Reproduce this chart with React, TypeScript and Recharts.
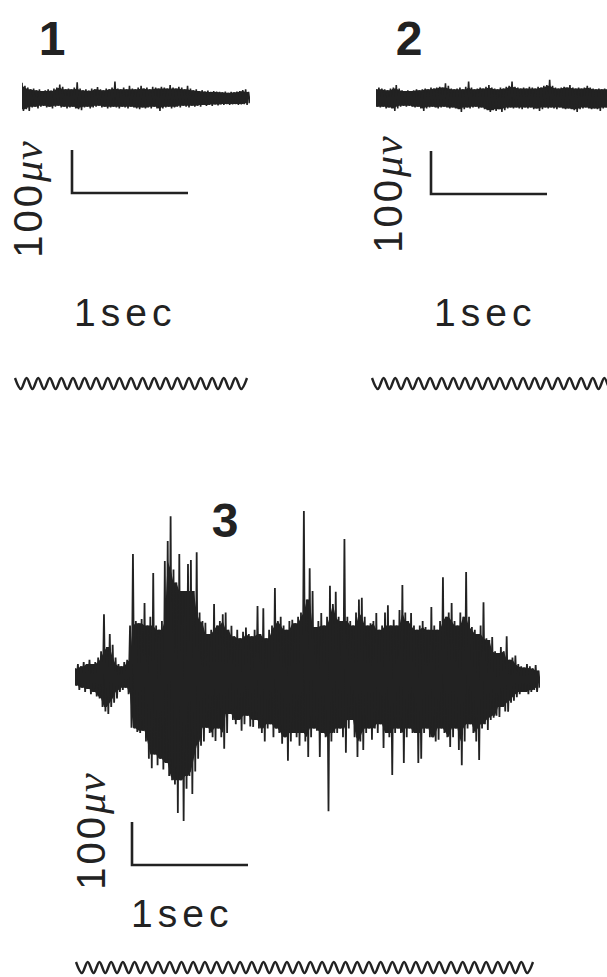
import React from 'react';
import { ComposedChart, Line, Area, XAxis, YAxis } from 'recharts';

// ---- acquisition constants ----
const SAMPLE_STEP = 0.025; // seconds between envelope samples
const PX_PER_SEC = 116;
const PX_PER_UV = 0.43;

// ---- calibration bars ----
const scaleBarUV = 100;
const scaleBarSec = 1;

// ---- panel labels ----
const panelLabels = ['1', '2', '3'];
const voltLabelNum = '100';
const voltLabelUnit = 'μv';
const timeLabel = '1sec';

// ---- trace 1 (upper / lower envelope per sample, μV) ----
const trace1Hi = [35, 28, 24, 20, 22, 18, 20, 16, 18, 20, 17, 22, 24, 31, 26, 20, 22, 20, 24, 36,
  22, 18, 20, 17, 22, 20, 25, 20, 18, 22, 20, 24, 38, 22, 20, 24, 20, 28, 22, 20,
  24, 28, 22, 24, 20, 26, 24, 22, 26, 24, 22, 30, 24, 22, 26, 24, 20, 28, 22, 18,
  20, 16, 18, 15, 17, 14, 16, 15, 14, 13, 15, 12, 14, 13, 15, 16, 18, 20, 14];
const trace1Lo = [-30, -26, -30, -22, -20, -24, -20, -18, -22, -20, -24, -20, -18, -22, -20, -24, -22, -20, -24, -26,
  -28, -22, -20, -24, -22, -20, -18, -22, -20, -24, -22, -20, -22, -24, -20, -22, -24, -20, -22, -24,
  -26, -22, -24, -22, -24, -20, -24, -30, -24, -22, -20, -24, -22, -20, -22, -18, -20, -22, -18, -20,
  -18, -20, -16, -18, -16, -18, -15, -17, -15, -16, -14, -16, -15, -14, -16, -15, -14, -16, -12];

// ---- trace 2 ----
const trace2Hi = [20, 24, 22, 20, 18, 22, 24, 30, 22, 18, 16, 18, 16, 18, 20, 18, 20, 22, 20, 24,
  22, 24, 26, 24, 34, 28, 22, 20, 22, 24, 20, 26, 38, 24, 20, 22, 24, 22, 26, 30,
  24, 22, 20, 24, 22, 26, 28, 38, 26, 24, 22, 24, 22, 26, 24, 22, 26, 24, 28, 30,
  42, 28, 24, 22, 24, 26, 24, 30, 24, 22, 24, 22, 24, 28, 24, 22, 20, 22, 20, 22, 20];
const trace2Lo = [-20, -22, -20, -24, -22, -24, -30, -24, -20, -18, -20, -18, -20, -22, -20, -24, -30, -24, -22, -20,
  -22, -24, -22, -20, -22, -24, -22, -24, -26, -32, -26, -22, -24, -22, -20, -24, -22, -26, -28, -32,
  -28, -30, -26, -32, -28, -24, -22, -24, -22, -24, -26, -22, -24, -22, -26, -24, -30, -26, -22, -24,
  -22, -24, -26, -22, -24, -26, -24, -26, -28, -32, -26, -24, -22, -24, -26, -24, -26, -30, -24, -22, -24];

// ---- trace 3 ----
const trace3Hi = [20, 30, 25, 35, 30, 40, 30, 35, 45, 60,
  146, 70, 100, 75, 45, 30, 25, 35, 40, 120,
  286, 130, 125, 135, 172, 120, 140, 242, 120, 110,
  130, 270, 316, 374, 250, 220, 286, 200, 200, 263,
  272, 200, 290, 150, 130, 126, 100, 110, 170, 120,
  130, 146, 150, 110, 119, 95, 110, 90, 105, 115,
  100, 95, 110, 165, 100, 160, 90, 110, 120, 207,
  130, 140, 120, 110, 130, 133, 125, 140, 150, 386,
  180, 253, 200, 116, 130, 149, 120, 140, 212, 170,
  198, 140, 130, 321, 140, 130, 120, 150, 180, 184,
  140, 120, 125, 130, 149, 110, 120, 150, 167, 120,
  133, 120, 156, 214, 150, 130, 149, 120, 110, 120,
  130, 116, 110, 163, 120, 110, 130, 232, 140, 150,
  172, 130, 120, 150, 140, 244, 140, 116, 110, 100,
  120, 174, 90, 86, 93, 60, 56, 70, 60, 95,
  40, 45, 50, 30, 25, 22, 30, 25, 20, 28, 15];
const trace3Lo = [-20, -30, -25, -35, -28, -40, -35, -45, -50, -70,
  -80, -86, -70, -60, -50, -35, -30, -25, -40, -118,
  -120, -128, -130, -125, -150, -190, -212, -180, -205, -190,
  -215, -200, -230, -240, -250, -316, -240, -335, -260, -230,
  -272, -220, -190, -160, -150, -118, -130, -140, -149, -120,
  -140, -167, -130, -86, -100, -110, -100, -125, -110, -90,
  -115, -116, -100, -120, -130, -150, -120, -110, -140, -120,
  -130, -155, -140, -195, -150, -130, -140, -160, -130, -150,
  -186, -140, -120, -125, -186, -130, -140, -312, -150, -130,
  -130, -120, -140, -176, -120, -100, -140, -186, -150, -170,
  -130, -120, -146, -120, -130, -110, -165, -130, -140, -228,
  -130, -120, -130, -200, -140, -120, -130, -130, -200, -190,
  -130, -120, -140, -140, -150, -146, -120, -130, -140, -163,
  -140, -120, -170, -205, -150, -120, -110, -130, -150, -193,
  -120, -110, -123, -100, -95, -90, -93, -70, -80, -81,
  -60, -55, -47, -40, -35, -35, -40, -35, -30, -35, -25];

// ---- 10 Hz timing marks (high / low per half cycle) ----
const timing1 = [1, 0, 1, 0, 1, 0, 1, 0, 1, 0, 1, 0, 1, 0, 1, 0, 1, 0, 1, 0,
  1, 0, 1, 0, 1, 0, 1, 0, 1, 0, 1, 0, 1, 0, 1, 0, 1, 0, 1, 0, 1];
const timing2 = [1, 0, 1, 0, 1, 0, 1, 0, 1, 0, 1, 0, 1, 0, 1, 0, 1, 0, 1, 0,
  1, 0, 1, 0, 1, 0, 1, 0, 1, 0, 1, 0, 1, 0, 1, 0, 1, 0, 1, 0, 1, 0, 1];
const timing3 = [1, 0, 1, 0, 1, 0, 1, 0, 1, 0, 1, 0, 1, 0, 1, 0, 1, 0, 1, 0,
  1, 0, 1, 0, 1, 0, 1, 0, 1, 0, 1, 0, 1, 0, 1, 0, 1, 0, 1, 0,
  1, 0, 1, 0, 1, 0, 1, 0, 1, 0, 1, 0, 1, 0, 1, 0, 1, 0, 1, 0,
  1, 0, 1, 0, 1, 0, 1, 0, 1, 0, 1, 0, 1, 0, 1, 0, 1, 0, 1];

const INK = '#222222';
const SANS = '"Liberation Sans", Arial, Helvetica, sans-serif';
const SERIF = '"Liberation Serif", "DejaVu Serif", serif';

type Pt = { t: number; v: number; band: [number, number] | null };

// Each envelope sample becomes an up-stroke and a down-stroke (the spikes);
// the solid core is the band between the lowest neighbouring peaks and troughs.
function buildTrace(hi: number[], lo: number[]) {
  const pts: Pt[] = [];
  const n = hi.length;
  hi.forEach((h, i) => {
    const a = Math.max(0, i - 1);
    const b = Math.min(n - 1, i + 1);
    const coreTop = Math.min(hi[a], h, hi[b]);
    const coreBot = Math.max(lo[a], lo[i], lo[b]);
    pts.push({ t: i * SAMPLE_STEP, v: h, band: [coreBot, coreTop] });
    pts.push({ t: i * SAMPLE_STEP + SAMPLE_STEP / 2, v: lo[i], band: null });
  });
  return pts;
}

function Trace({ hi, lo, left, centerY, halfUV, stroke }: { hi: number[]; lo: number[]; left: number; centerY: number; halfUV: number; stroke: number }) {
  const data = buildTrace(hi, lo);
  const tMax = data[data.length - 1].t;
  const width = Math.round(tMax * PX_PER_SEC);
  const height = Math.round(2 * halfUV * PX_PER_UV);
  return (
    <div style={{ position: 'absolute', left, top: centerY - height / 2 }}>
      <ComposedChart width={width} height={height} data={data} margin={{ top: 0, right: 0, bottom: 0, left: 0 }}>
        <XAxis type="number" dataKey="t" domain={[0, tMax]} hide />
        <YAxis type="number" domain={[-halfUV, halfUV]} hide />
        <Area type="linear" dataKey="band" connectNulls stroke="none" fill={INK} fillOpacity={1} dot={false} activeDot={false} isAnimationActive={false} />
        <Line type="linear" dataKey="v" stroke={INK} strokeWidth={stroke} dot={false} activeDot={false} isAnimationActive={false} />
      </ComposedChart>
    </div>
  );
}

function ScaleBar({ left, top }: { left: number; top: number }) {
  const data = [
    { t: 0, v: scaleBarUV },
    { t: 0, v: 0 },
    { t: scaleBarSec, v: 0 },
  ];
  const pad = 3;
  const w = scaleBarSec * PX_PER_SEC;
  const h = scaleBarUV * PX_PER_UV;
  return (
    <div style={{ position: 'absolute', left: left - pad, top: top - pad }}>
      <ComposedChart width={w + 2 * pad} height={h + 2 * pad} data={data} margin={{ top: pad, right: pad, bottom: pad, left: pad }}>
        <XAxis type="number" dataKey="t" domain={[0, scaleBarSec]} hide />
        <YAxis type="number" domain={[0, scaleBarUV]} hide />
        <Line type="linear" dataKey="v" stroke={INK} strokeWidth={2.6} dot={false} activeDot={false} isAnimationActive={false} />
      </ComposedChart>
    </div>
  );
}

function TimingWave({ values, left, top, width, height }: { values: number[]; left: number; top: number; width: number; height: number }) {
  const data = values.map((v, i) => ({ i, v }));
  const pad = 2;
  return (
    <div style={{ position: 'absolute', left: left - pad, top: top - pad }}>
      <ComposedChart width={width + 2 * pad} height={height + 2 * pad} data={data} margin={{ top: pad, right: pad, bottom: pad, left: pad }}>
        <XAxis type="number" dataKey="i" domain={[0, values.length - 1]} hide />
        <YAxis type="number" domain={[0, 1]} hide />
        <Line type="monotone" dataKey="v" stroke={INK} strokeWidth={2.4} dot={false} activeDot={false} isAnimationActive={false} />
      </ComposedChart>
    </div>
  );
}

function PanelNumber({ text, cx, top }: { text: string; cx: number; top: number }) {
  return (
    <div style={{ position: 'absolute', left: cx - 30, top, width: 60, textAlign: 'center', fontFamily: SANS, fontWeight: 700, fontSize: 48, lineHeight: '48px', color: INK }}>
      {text}
    </div>
  );
}

function TimeLabel({ left, top }: { left: number; top: number }) {
  return (
    <div style={{ position: 'absolute', left, top, fontFamily: SANS, fontSize: 39, lineHeight: '39px', letterSpacing: 5, color: INK, whiteSpace: 'nowrap' }}>
      {timeLabel}
    </div>
  );
}

function VoltLabel({ cx, cy }: { cx: number; cy: number }) {
  const w = 150;
  const h = 40;
  return (
    <div style={{ position: 'absolute', left: cx - w / 2, top: cy - h / 2, width: w, height: h, lineHeight: `${h}px`, textAlign: 'center', transform: 'rotate(-90deg)', whiteSpace: 'nowrap', color: INK }}>
      <span style={{ fontFamily: SANS, fontSize: 40, letterSpacing: 3 }}>{voltLabelNum}</span>
      <span style={{ fontFamily: SERIF, fontStyle: 'italic', fontSize: 42, letterSpacing: 1 }}>{voltLabelUnit}</span>
    </div>
  );
}

export default function App() {
  return (
    <div style={{ position: 'absolute', left: 0, top: 0, width: 607, height: 977, overflow: 'hidden', background: '#ffffff' }}>
      {/* Panel 1 */}
      <PanelNumber text={panelLabels[0]} cx={52} top={15} />
      <Trace hi={trace1Hi} lo={trace1Lo} left={22} centerY={98} halfUV={60} stroke={1.6} />
      <ScaleBar left={72} top={150} />
      <VoltLabel cx={28} cy={199} />
      <TimeLabel left={74} top={293} />
      <TimingWave values={timing1} left={15} top={378} width={232} height={11} />

      {/* Panel 2 */}
      <PanelNumber text={panelLabels[1]} cx={409} top={15} />
      <Trace hi={trace2Hi} lo={trace2Lo} left={376} centerY={98} halfUV={60} stroke={1.6} />
      <ScaleBar left={431} top={151} />
      <VoltLabel cx={388} cy={194} />
      <TimeLabel left={434} top={293} />
      <TimingWave values={timing2} left={372} top={378} width={244} height={11} />

      {/* Panel 3 */}
      <PanelNumber text={panelLabels[2]} cx={225} top={497} />
      <Trace hi={trace3Hi} lo={trace3Lo} left={75} centerY={677} halfUV={400} stroke={1.8} />
      <ScaleBar left={132} top={822} />
      <VoltLabel cx={91} cy={831} />
      <TimeLabel left={131} top={894} />
      <TimingWave values={timing3} left={76} top={962} width={457} height={11} />
    </div>
  );
}
